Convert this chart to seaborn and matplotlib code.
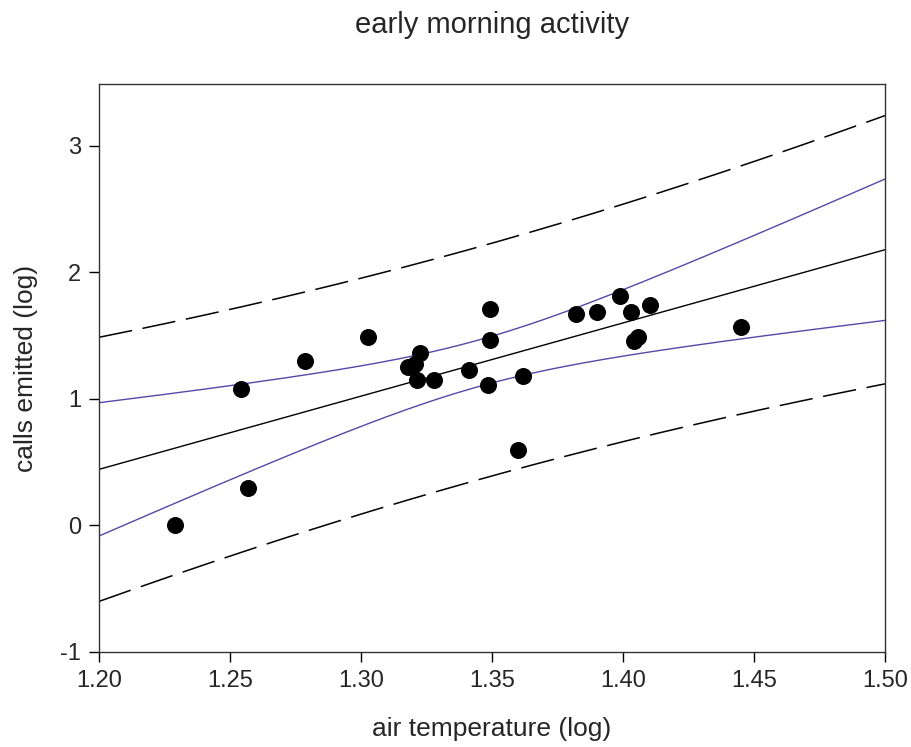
import numpy as np
import pandas as pd
import matplotlib
matplotlib.use("Agg")
import matplotlib.pyplot as plt
import seaborn as sns

air_temp = [1.2289, 1.2567, 1.2542, 1.2785, 1.3027,
            1.3491, 1.3491, 1.3225, 1.3206, 1.3179, 1.3213, 1.3279,
            1.3413, 1.3485, 1.3618, 1.3599, 1.3820, 1.3900, 1.3989,
            1.4029, 1.4103, 1.4040, 1.4057, 1.4451]
calls = [0.00, 0.30, 1.08, 1.30, 1.49,
         1.71, 1.47, 1.36, 1.28, 1.25, 1.15, 1.15,
         1.23, 1.11, 1.18, 0.60, 1.67, 1.69, 1.815,
         1.69, 1.74, 1.46, 1.49, 1.57]

x_ticks = [1.20, 1.25, 1.30, 1.35, 1.40, 1.45, 1.50]
y_ticks = [-1, 0, 1, 2, 3]

df = pd.DataFrame({"air": air_temp, "calls": calls})

### linear regression with 99% confidence and prediction bands
n = len(df)
slope, intercept = np.polyfit(df["air"], df["calls"], 1)
resid = df["calls"] - (intercept + slope * df["air"])
s = np.sqrt((resid ** 2).sum() / (n - 2))
t_crit = 2.819  # t(0.995, df=22)
x_mean = df["air"].mean()
sxx = ((df["air"] - x_mean) ** 2).sum()

xs = np.linspace(1.20, 1.50, 200)
fit = intercept + slope * xs
se_mean = s * np.sqrt(1 / n + (xs - x_mean) ** 2 / sxx)
se_pred = s * np.sqrt(1 + 1 / n + (xs - x_mean) ** 2 / sxx)

bands = pd.DataFrame({
    "x": xs,
    "fit": fit,
    "ci_lo": fit - t_crit * se_mean,
    "ci_hi": fit + t_crit * se_mean,
    "pi_lo": fit - t_crit * se_pred,
    "pi_hi": fit + t_crit * se_pred,
})

sns.set_style("ticks")
plt.rcParams["font.family"] = ["Liberation Sans", "DejaVu Sans"]
plt.rcParams["axes.unicode_minus"] = False

fig = plt.figure(figsize=(9.11, 7.47), dpi=100)
ax = fig.add_axes([0.1087, 0.1272, 0.8628, 0.7604])

blue = "#5548a8"
sns.lineplot(data=bands, x="x", y="fit", color="black", lw=1.0, ax=ax)
sns.lineplot(data=bands, x="x", y="ci_lo", color=blue, lw=1.0, ax=ax)
sns.lineplot(data=bands, x="x", y="ci_hi", color=blue, lw=1.0, ax=ax)
for col in ["pi_lo", "pi_hi"]:
    sns.lineplot(data=bands, x="x", y=col, color="black", lw=1.1,
                 ax=ax).lines[-1].set_dashes([22, 7])

sns.scatterplot(data=df, x="air", y="calls", color="black", s=150,
                edgecolor="black", linewidth=0, zorder=5, ax=ax)

ax.set_xlim(1.20, 1.50)
ax.set_ylim(-1, 3.49)
ax.set_xticks(x_ticks)
ax.set_xticklabels([f"{t:.2f}" for t in x_ticks])
ax.set_yticks(y_ticks)
ax.tick_params(axis="both", labelsize=17, direction="out", length=7,
               width=1, color="black", pad=6)
for sp in ax.spines.values():
    sp.set_color("#333333")
    sp.set_linewidth(1.0)

ax.set_xlabel("air temperature (log)", fontsize=19, labelpad=18)
ax.set_ylabel("calls emitted (log)", fontsize=19, labelpad=16)
ax.set_title("early morning activity", fontsize=21, pad=37)

fig.savefig("out.png", dpi=100)
